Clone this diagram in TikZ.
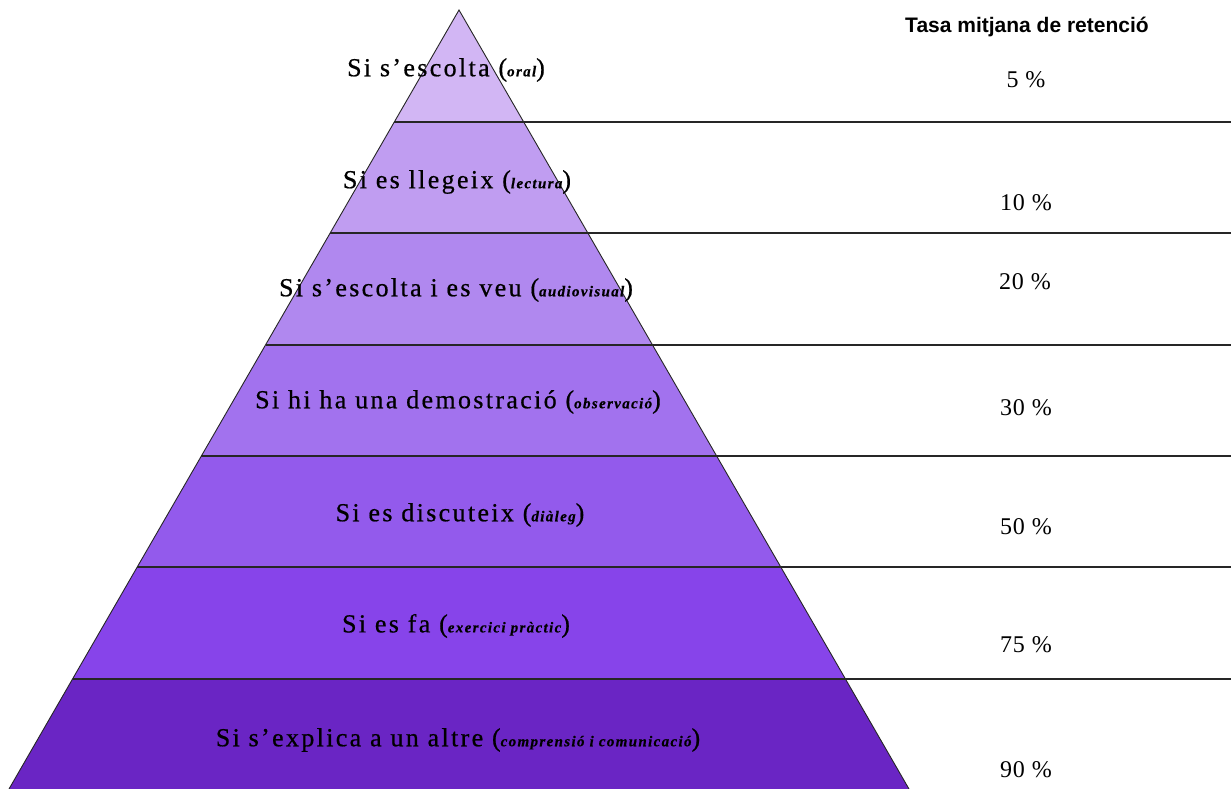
\documentclass[tikz,border=0pt]{standalone}
\usepackage{fontspec}
\setmainfont{Liberation Serif}
\newfontfamily\pyrfont[LetterSpace=9,FakeBold=0.6]{Liberation Serif}
\newfontfamily\pctfont[LetterSpace=4]{Liberation Serif}
\newfontfamily\hdfont{Liberation Sans}
\definecolor{cA}{HTML}{D2B6F4}
\definecolor{cB}{HTML}{C09DF1}
\definecolor{cC}{HTML}{B088EF}
\definecolor{cD}{HTML}{A272EE}
\definecolor{cE}{HTML}{935AEC}
\definecolor{cF}{HTML}{8744EA}
\definecolor{cG}{HTML}{6A25C4}
\newcommand{\ptext}[1]{({\fontsize{15}{17}\selectfont\bfseries\itshape #1})}
\begin{document}
\begin{tikzpicture}[x=1pt,y=-1pt,
  edge/.style={draw=black!85, line width=0.9pt, line join=miter},
  rule/.style={draw=black!85, line width=1.2pt},
  lbl/.style={font=\pyrfont\fontsize{26}{30}\selectfont, inner sep=0pt, text=black},
  pct/.style={font=\pctfont\fontsize{24}{28}\selectfont, inner sep=0pt, text=black},
  head/.style={font=\hdfont\bfseries\fontsize{21}{24}\selectfont, inner sep=0pt, text=black}]
\useasboundingbox (0,0) rectangle (1231,789);
\fill[white] (0,0) rectangle (1231,789);
% pyramid band corners
\coordinate (apex) at (459,10);
\coordinate (L1) at (394.3,122); \coordinate (R1) at (523.7,122);
\coordinate (L2) at (330.2,233); \coordinate (R2) at (587.8,233);
\coordinate (L3) at (265.5,345); \coordinate (R3) at (652.5,345);
\coordinate (L4) at (201.4,456); \coordinate (R4) at (716.6,456);
\coordinate (L5) at (137.2,567); \coordinate (R5) at (780.8,567);
\coordinate (L6) at (72.5,679);  \coordinate (R6) at (845.5,679);
\coordinate (L7) at (9,789);     \coordinate (R7) at (909,789);
\coordinate (E1) at (1231,122);
\coordinate (E2) at (1231,233);
\coordinate (E3) at (1231,345);
\coordinate (E4) at (1231,456);
\coordinate (E5) at (1231,567);
\coordinate (E6) at (1231,679);
% bands
\fill[cA] (apex) -- (R1) -- (L1) -- cycle;
\fill[cB] (L1) -- (R1) -- (R2) -- (L2) -- cycle;
\fill[cC] (L2) -- (R2) -- (R3) -- (L3) -- cycle;
\fill[cD] (L3) -- (R3) -- (R4) -- (L4) -- cycle;
\fill[cE] (L4) -- (R4) -- (R5) -- (L5) -- cycle;
\fill[cF] (L5) -- (R5) -- (R6) -- (L6) -- cycle;
\fill[cG] (L6) -- (R6) -- (R7) -- (L7) -- cycle;
% outline
\draw[edge] (L7) -- (apex) -- (R7);
% rules
\draw[rule] (L1) -- (E1);
\draw[rule] (L2) -- (E2);
\draw[rule] (L3) -- (E3);
\draw[rule] (L4) -- (E4);
\draw[rule] (L5) -- (E5);
\draw[rule] (L6) -- (E6);
% labels
\node[lbl] (t1) at (446,70) {Si s’escolta \ptext{oral}};
\node[lbl] (t2) at (457,182) {Si es llegeix \ptext{lectura}};
\node[lbl] (t3) at (456,290) {Si s’escolta i es veu \ptext{audiovisual}};
\node[lbl] (t4) at (458,402) {Si hi ha una demostració \ptext{observació}};
\node[lbl] (t5) at (460,515) {Si es discuteix \ptext{diàleg}};
\node[lbl] (t6) at (456,626) {Si es fa \ptext{exercici pràctic}};
\node[lbl] (t7) at (458,740) {Si s’explica a un altre \ptext{comprensió i comunicació}};
% right column
\node[head] (h) at (1027,27) {Tasa mitjana de retenció};
\node[pct] (p1) at (1026,80) {5 \%};
\node[pct] (p2) at (1026,203) {10 \%};
\node[pct] (p3) at (1025,282) {20 \%};
\node[pct] (p4) at (1026,408) {30 \%};
\node[pct] (p5) at (1026,527) {50 \%};
\node[pct] (p6) at (1026,645) {75 \%};
\node[pct] (p7) at (1026,770) {90 \%};
\end{tikzpicture}
\end{document}
